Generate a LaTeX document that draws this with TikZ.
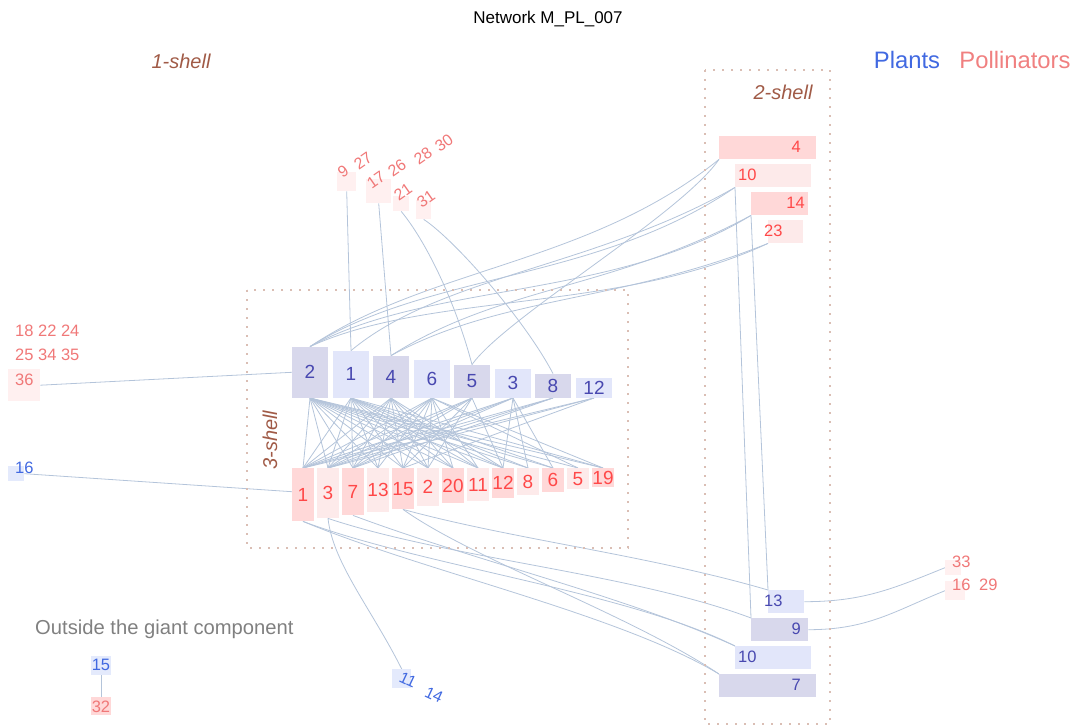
\documentclass[tikz,border=0pt]{standalone}
\usepackage{fontspec}
\setmainfont{Liberation Sans}
\usetikzlibrary{backgrounds}
\newcommand\myfs[1]{\fontsize{#1}{#1}\selectfont}
\definecolor{edgec}{RGB}{180,196,218}
\definecolor{pldark}{RGB}{216,216,236}
\definecolor{pllight}{RGB}{226,230,250}
\definecolor{pltext}{RGB}{72,72,176}
\definecolor{podark}{RGB}{255,216,216}
\definecolor{polight}{RGB}{253,234,234}
\definecolor{potext}{RGB}{255,72,72}
\definecolor{oneshell}{RGB}{255,240,240}
\definecolor{onetext}{RGB}{240,120,120}
\definecolor{shellc}{RGB}{160,90,70}
\definecolor{dotc}{RGB}{218,190,180}
\definecolor{blueout}{RGB}{65,105,225}
\definecolor{bluebox}{RGB}{228,234,252}
\definecolor{lightcoral}{RGB}{240,128,128}
\begin{document}
\begin{tikzpicture}[x=1pt,y=-1pt,
  box/.style={inner sep=0pt,draw=none},
  pd/.style={box,fill=pldark,text=pltext,font=\myfs{19}},
  pl/.style={box,fill=pllight,text=pltext,font=\myfs{19}},
  qd/.style={box,fill=podark,text=potext,font=\myfs{19}},
  ql/.style={box,fill=polight,text=potext,font=\myfs{19}},
  plab/.style={inner sep=0pt,text=pltext,font=\myfs{16.5}},
  qlab/.style={inner sep=0pt,text=potext,font=\myfs{16.5}},
  onelab/.style={inner sep=0pt,text=onetext,font=\myfs{16.5}},
  rotlab/.style={inner sep=0pt,text=onetext,font=\myfs{16},rotate=35},
  onebox/.style={box,fill=oneshell},
  shelllab/.style={inner sep=0pt,text=shellc,font=\myfs{20}\itshape},
  edge/.style={draw=edgec,line width=0.8pt},
  dotbox/.style={draw=dotc,line width=2pt,dash pattern=on 2pt off 7pt}
]
\useasboundingbox (0,0) rectangle (1078,727);

% titles and legends
\node[inner sep=0pt,font=\myfs{17}] (title) at (548,19) {Network M\_PL\_007};
\node[inner sep=0pt,text=blueout,font=\myfs{23.8}] (legP) at (907,60) {Plants};
\node[inner sep=0pt,text=lightcoral,font=\myfs{23.8}] (legQ) at (1015,60) {Pollinators};
\node[shelllab] (s1) at (181,61) {1-shell};
\node[shelllab] (s2) at (783,92) {2-shell};
\node[shelllab,rotate=90] (s3) at (270,440) {3-shell};

% shell boxes
\draw[dotbox] (247,290) rectangle (628,548);
\draw[dotbox] (705,70) rectangle (830,724);

% core plants
\node[pd,minimum width=36,minimum height=51,anchor=south] (A2) at (310,398) {2};
\node[pl,minimum width=36,minimum height=47,anchor=south] (A1) at (351,398) {1};
\node[pd,minimum width=36,minimum height=42,anchor=south] (A4) at (391,398) {4};
\node[pl,minimum width=36,minimum height=38,anchor=south] (A6) at (432,398) {6};
\node[pd,minimum width=36,minimum height=33,anchor=south] (A5) at (472,398) {5};
\node[pl,minimum width=36,minimum height=29,anchor=south] (A3) at (513,398) {3};
\node[pd,minimum width=36,minimum height=24,anchor=south] (A8) at (553,398) {8};
\node[pl,minimum width=36,minimum height=20,anchor=south] (A12) at (594,398) {12};

% core pollinators
\node[qd,minimum width=22,minimum height=53,anchor=north] (B1) at (303,468) {1};
\node[ql,minimum width=22,minimum height=50,anchor=north] (B3) at (328,468) {3};
\node[qd,minimum width=22,minimum height=47,anchor=north] (B7) at (353,468) {7};
\node[ql,minimum width=22,minimum height=44,anchor=north] (B13) at (378,468) {13};
\node[qd,minimum width=22,minimum height=41,anchor=north] (B15) at (403,468) {15};
\node[ql,minimum width=22,minimum height=38,anchor=north] (B2) at (428,468) {2};
\node[qd,minimum width=22,minimum height=35,anchor=north] (B20) at (453,468) {20};
\node[ql,minimum width=22,minimum height=33,anchor=north] (B11) at (478,468) {11};
\node[qd,minimum width=22,minimum height=30,anchor=north] (B12) at (503,468) {12};
\node[ql,minimum width=22,minimum height=27,anchor=north] (B8) at (528,468) {8};
\node[qd,minimum width=22,minimum height=24,anchor=north] (B6) at (553,468) {6};
\node[ql,minimum width=22,minimum height=21,anchor=north] (B5) at (578,468) {5};
\node[qd,minimum width=22,minimum height=19,anchor=north] (B19) at (603,468) {19};

% 2-shell pollinators
\node[box,fill=podark,minimum width=97,minimum height=23,anchor=north west] (C4) at (719,136) {};
\node[qlab,anchor=east] (C4l) at (801,147) {4};
\node[box,fill=polight,minimum width=76,minimum height=23,anchor=north west] (C10) at (735,164) {};
\node[qlab,anchor=west] (C10l) at (738,175) {10};
\node[box,fill=podark,minimum width=57,minimum height=23,anchor=north west] (C14) at (751,192) {};
\node[qlab,anchor=east] (C14l) at (805,203) {14};
\node[box,fill=polight,minimum width=35,minimum height=23,anchor=north west] (C23) at (768,220) {};
\node[qlab,anchor=west] (C23l) at (764,231) {23};

% 2-shell plants
\node[box,fill=pllight,minimum width=36,minimum height=23,anchor=north west] (D13) at (768,590) {};
\node[plab,anchor=west] (D13l) at (764,601) {13};
\node[box,fill=pldark,minimum width=57,minimum height=23,anchor=north west] (D9) at (751,618) {};
\node[plab,anchor=east] (D9l) at (801,629) {9};
\node[box,fill=pllight,minimum width=76,minimum height=23,anchor=north west] (D10) at (735,646) {};
\node[plab,anchor=west] (D10l) at (738,657) {10};
\node[box,fill=pldark,minimum width=97,minimum height=23,anchor=north west] (D7) at (719,674) {};
\node[plab,anchor=east] (D7l) at (801,685) {7};

% 1-shell top pollinators
\node[onebox,minimum width=19,minimum height=19,anchor=north west] (T1) at (337,172) {};
\node[rotlab] (T1a) at (343,171) {9};
\node[rotlab] (T1b) at (363,161) {27};
\node[onebox,minimum width=25,minimum height=24,anchor=north west] (T2) at (366,179) {};
\node[rotlab] (T2a) at (376,180) {17};
\node[rotlab] (T2b) at (397,168) {26};
\node[rotlab] (T2c) at (423,156) {28};
\node[rotlab] (T2d) at (444,143) {30};
\node[onebox,minimum width=16,minimum height=15,anchor=north west] (T3) at (393,196) {};
\node[rotlab] (T3a) at (403,192) {21};
\node[onebox,minimum width=15,minimum height=19,anchor=north west] (T4) at (416,200) {};
\node[rotlab] (T4a) at (426,199) {31};

% 1-shell left
\node[onelab,anchor=west] (L1) at (15,331) {18 22 24};
\node[onelab,anchor=west] (L2) at (15,355) {25 34 35};
\node[onebox,minimum width=32,minimum height=32,anchor=north west] (L36) at (8,369) {};
\node[onelab,anchor=west] (L36l) at (15,380) {36};
\node[box,fill=bluebox,minimum width=16,minimum height=15,anchor=north west] (L16) at (8,466) {};
\node[inner sep=0pt,text=blueout,font=\myfs{16.5},anchor=west] (L16l) at (15,468) {16};

% 1-shell right
\node[onebox,minimum width=16,minimum height=15,anchor=north west] (R33) at (945,560) {};
\node[onelab,anchor=west] (R33l) at (952,562) {33};
\node[onebox,minimum width=20,minimum height=19,anchor=north west] (R16) at (945,581) {};
\node[onelab,anchor=west] (R16l) at (952,585) {16};
\node[onelab,anchor=west] (R29l) at (979,585) {29};

% 1-shell bottom plants
\node[box,fill=bluebox,minimum width=19,minimum height=19,anchor=north west] (M11) at (392,669) {};
\node[inner sep=0pt,text=blueout,font=\myfs{16},rotate=-25] (M11l) at (408,680) {11};
\node[inner sep=0pt,text=blueout,font=\myfs{16},rotate=-25] (M14l) at (434,695) {14};

% outside giant component
\node[inner sep=0pt,text=gray,font=\myfs{20.2},anchor=west] (out) at (35,629) {Outside the giant component};
\node[box,fill=bluebox,minimum width=20,minimum height=19,anchor=north west] (O15) at (91,656) {};
\node[inner sep=0pt,text=blueout,font=\myfs{16.5}] (O15l) at (101,665) {15};
\node[box,fill=podark,minimum width=20,minimum height=18,anchor=north west] (O32) at (91,697) {};
\node[onelab] (O32l) at (101,707) {32};

\begin{scope}[on background layer]
% core links
\foreach \q in {B1,B3,B7,B13,B15,B2,B20,B11,B12,B8,B6,B5,B19} \draw[edge] (A2.south) -- (\q.north);
\foreach \q in {B1,B3,B7,B13,B15,B2,B20,B11,B12,B8,B6,B19} \draw[edge] (A1.south) -- (\q.north);
\foreach \q in {B1,B3,B7,B13,B15,B2,B20,B11,B12} \draw[edge] (A4.south) -- (\q.north);
\foreach \q in {B1,B3,B7,B13,B15,B2,B20,B11,B5,B19} \draw[edge] (A6.south) -- (\q.north);
\foreach \q in {B1,B3,B7,B15,B2,B12} \draw[edge] (A5.south) -- (\q.north);
\foreach \q in {B1,B3,B7,B12,B8,B6} \draw[edge] (A3.south) -- (\q.north);
\foreach \q in {B1,B3,B7} \draw[edge] (A8.south) -- (\q.north);
\foreach \q in {B1,B3,B15} \draw[edge] (A12.south) -- (\q.north);

% 1-shell links
\draw[edge] (L36.east) -- (A2.west);
\draw[edge] (L16.east) -- ([yshift=3pt]B1.west);
\draw[edge] (T1.south) -- (A1.north);
\draw[edge] (T2.south) -- (A4.north);
\draw[edge] (T3.south) .. controls (425,240) and (455,300) .. (A5.north);
\draw[edge] (T4.south) .. controls (455,240) and (525,320) .. (A8.north);
\draw[edge] (B3.south) .. controls +(5,45) and +(-30,-60) .. (M11.north);
\draw[edge] (D13.east) .. controls +(60,0) and +(-50,20) .. (R33.west);
\draw[edge] (D9.east) .. controls +(60,0) and +(-50,20) .. (R16.west);
\draw[edge] (O15.south) -- (O32.north);

% 2-shell links (top)
\draw[edge] (A2.north) .. controls +(120,-80) and +(-130,105) .. (C4.south west);
\draw[edge] (A5.north) .. controls +(33,-47) and +(-39,56) .. (C4.south west);
\draw[edge] (A2.north) .. controls +(120,-75) and +(-140,95) .. (C10.south west);
\draw[edge] (A1.north) .. controls +(90,-75) and +(-140,80) .. (C10.south west);
\draw[edge] (A2.north) .. controls +(120,-65) and +(-140,85) .. (C14.south west);
\draw[edge] (A4.north) .. controls +(110,-70) and +(-140,75) .. (C14.south west);
\draw[edge] (A2.north) .. controls +(120,-55) and +(-150,70) .. (C23.south west);
\draw[edge] (A4.north) .. controls +(110,-60) and +(-150,60) .. (C23.south west);
\draw[edge] (C10.south west) -- (D9.north west);
\draw[edge] (C14.south west) -- (D13.north west);

% 2-shell links (bottom)
\draw[edge] (B15.south) .. controls +(110,30) and +(-120,-35) .. (D13.north west);
\draw[edge] (B15.south) .. controls +(70,50) and +(-90,-60) .. (D7.north west);
\draw[edge] (B3.south) .. controls +(120,40) and +(-120,-45) .. (D9.north west);
\draw[edge] (B1.south) .. controls +(120,45) and +(-110,-55) .. (D10.north west);
\draw[edge] (B7.south) .. controls +(120,45) and +(-110,-50) .. (D10.north west);
\draw[edge] (B1.south) .. controls +(120,50) and +(-100,-60) .. (D7.north west);
\end{scope}
\end{tikzpicture}
\end{document}
